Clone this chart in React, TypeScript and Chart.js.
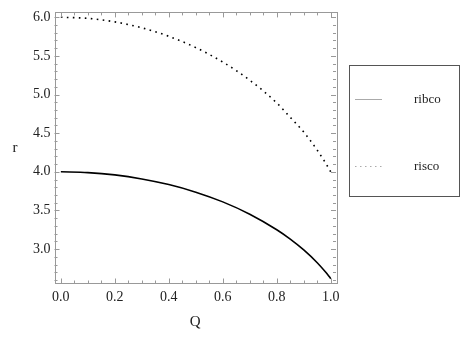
import React, { useEffect, useRef } from "react";
import { Chart, registerables } from "chart.js";

Chart.register(...registerables);

const Q_VALUES = [0, 0.1, 0.2, 0.3, 0.4, 0.5, 0.6, 0.7, 0.8, 0.85, 0.9, 0.95, 0.98, 1.0];
const RISCO = [6.0, 5.985, 5.94, 5.863, 5.753, 5.607, 5.42, 5.185, 4.891, 4.705, 4.514, 4.28, 4.119, 4.0];
const RIBCO = [4.0, 3.99, 3.96, 3.908, 3.835, 3.737, 3.611, 3.452, 3.251, 3.13, 2.99, 2.824, 2.706, 2.618];
const X_TICKS = [0, 0.2, 0.4, 0.6, 0.8, 1.0];
const Y_TICKS = [3.0, 3.5, 4.0, 4.5, 5.0, 5.5, 6.0];
const SERIES_NAMES = ["ribco", "risco"];
const X_TITLE = "Q";
const Y_TITLE = "r";

const FONT = '"Liberation Serif", "Times New Roman", "DejaVu Serif", serif';

const framePlugin = {
  id: "frame",
  afterDatasetsDraw(chart: any) {
    const { ctx, chartArea: a, scales } = chart;
    const xs = scales.x;
    const ys = scales.y;
    ctx.save();
    ctx.strokeStyle = "#999";
    ctx.lineWidth = 1;
    ctx.strokeRect(Math.round(a.left) + 0.5, Math.round(a.top) + 0.5, Math.round(a.right - a.left), Math.round(a.bottom - a.top));
    for (let i = 0; i <= 20; i++) {
      const v = i * 0.05;
      const major = i % 4 === 0;
      const len = major ? 5 : 3;
      const px = Math.round(xs.getPixelForValue(v)) + 0.5;
      ctx.beginPath();
      ctx.moveTo(px, a.bottom);
      ctx.lineTo(px, a.bottom - len);
      ctx.moveTo(px, a.top);
      ctx.lineTo(px, a.top + len);
      ctx.stroke();
    }
    for (let i = 26; i <= 60; i++) {
      const v = i / 10;
      const major = i % 5 === 0;
      const len = major ? 5 : 3;
      const py = Math.round(ys.getPixelForValue(v)) + 0.5;
      ctx.beginPath();
      ctx.moveTo(a.left, py);
      ctx.lineTo(a.left + len, py);
      ctx.moveTo(a.right, py);
      ctx.lineTo(a.right - len, py);
      ctx.stroke();
    }
    ctx.fillStyle = "#222";
    ctx.font = `15px ${FONT}`;
    ctx.textAlign = "center";
    ctx.textBaseline = "middle";
    ctx.fillText(X_TITLE, (a.left + a.right) / 2, 322);
    ctx.fillText(Y_TITLE, 15, (a.top + a.bottom) / 2);

    ctx.strokeStyle = "#555";
    ctx.lineWidth = 1;
    ctx.strokeRect(349.5, 65.5, 110, 131);
    const rows = [99.5, 166.5];
    chart.data.datasets.forEach((ds: any, i: number) => {
      const y = rows[i];
      ctx.beginPath();
      ctx.strokeStyle = "#aaa";
      ctx.lineWidth = 1;
      ctx.setLineDash(ds.borderDash && ds.borderDash.length ? [1.5, 3.5] : []);
      ctx.moveTo(355, y);
      ctx.lineTo(382, y);
      ctx.stroke();
      ctx.setLineDash([]);
      ctx.fillStyle = "#222";
      ctx.font = `13px ${FONT}`;
      ctx.textAlign = "left";
      ctx.textBaseline = "alphabetic";
      ctx.fillText(ds.label, 414, y + 3);
    });
    ctx.restore();
  },
};

export default function App() {
  const ref = useRef<HTMLCanvasElement>(null);
  useEffect(() => {
    if (!ref.current) return;
    const chart = new Chart(ref.current, {
      type: "line",
      data: {
        datasets: [
          {
            label: SERIES_NAMES[0],
            data: Q_VALUES.map((q, i) => ({ x: q, y: RIBCO[i] })),
            borderColor: "#000",
            borderWidth: 1.6,
            pointRadius: 0,
            cubicInterpolationMode: "monotone",
            fill: false,
          },
          {
            label: SERIES_NAMES[1],
            data: Q_VALUES.map((q, i) => ({ x: q, y: RISCO[i] })),
            borderColor: "#000",
            borderWidth: 1.6,
            borderDash: [1.6, 4.4],
            pointRadius: 0,
            cubicInterpolationMode: "monotone",
            fill: false,
          },
        ],
      },
      options: {
        animation: false,
        responsive: false,
        maintainAspectRatio: false,
        layout: { padding: { left: 0, top: 3, right: 133, bottom: 0 } },
        plugins: { legend: { display: false }, tooltip: { enabled: false } },
        scales: {
          x: {
            type: "linear",
            min: -0.0235,
            max: 1.0195,
            grid: { display: false, drawTicks: false },
            border: { display: false },
            afterBuildTicks: (s: any) => {
              s.ticks = X_TICKS.map((v) => ({ value: v }));
            },
            afterFit: (s: any) => {
              s.height = 56.5;
            },
            ticks: {
              padding: 5,
              color: "#222",
              font: { family: FONT, size: 14 },
              maxRotation: 0,
              autoSkip: false,
              callback: (v: any) => Number(v).toFixed(1),
            },
          },
          y: {
            type: "linear",
            min: 2.555,
            max: 6.0625,
            grid: { display: false, drawTicks: false },
            border: { display: false },
            afterBuildTicks: (s: any) => {
              s.ticks = Y_TICKS.map((v) => ({ value: v }));
            },
            afterFit: (s: any) => {
              s.width = 54.5;
            },
            ticks: {
              padding: 4,
              color: "#222",
              font: { family: FONT, size: 14 },
              autoSkip: false,
              callback: (v: any) => Number(v).toFixed(1),
            },
          },
        },
      },
      plugins: [framePlugin],
    } as any);
    return () => chart.destroy();
  }, []);
  return (
    <div style={{ position: "fixed", left: 0, top: 0, width: 469, height: 340, background: "#fff" }}>
      <canvas ref={ref} width={469} height={340} style={{ width: 469, height: 340 }} />
    </div>
  );
}
